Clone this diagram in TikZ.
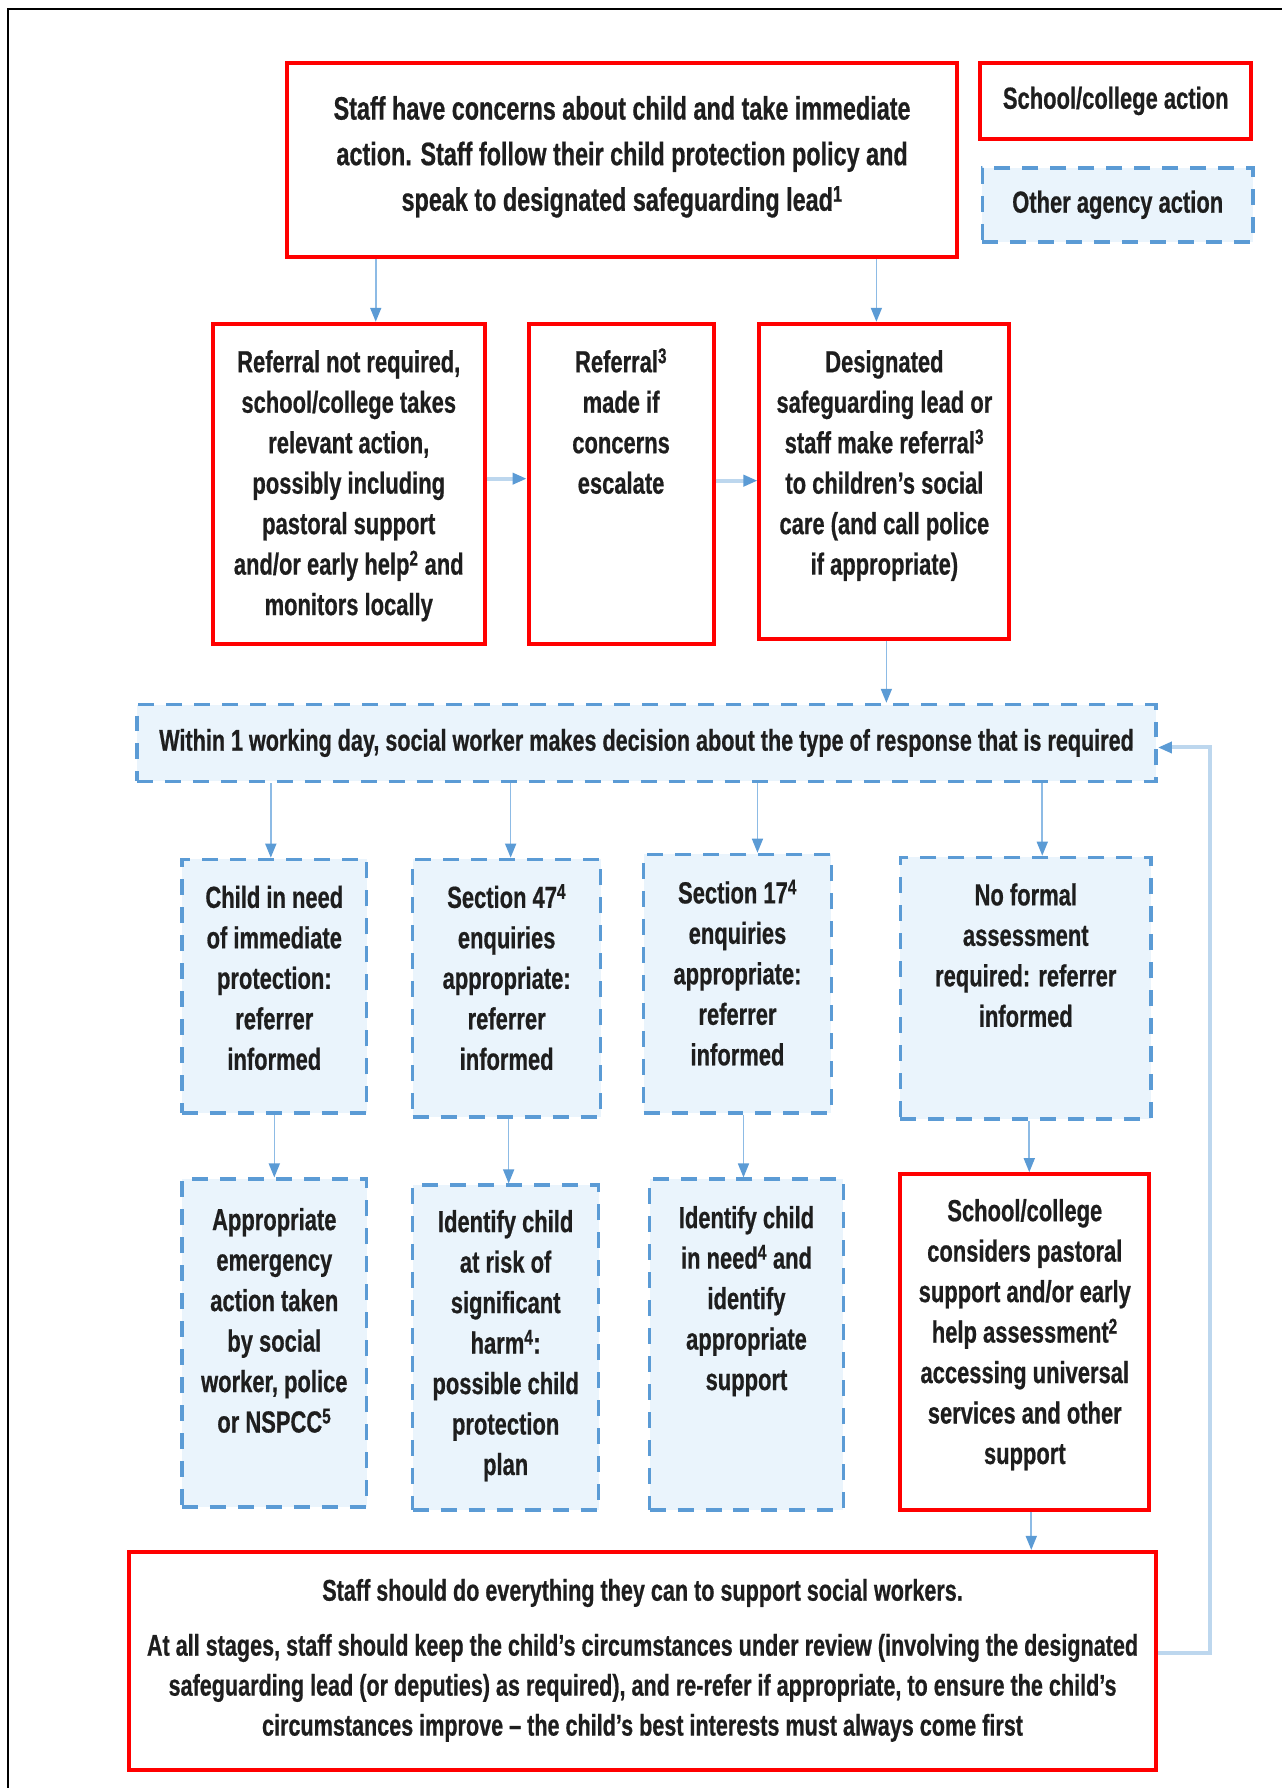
\documentclass[tikz,border=0pt]{standalone}
\usepackage{fontspec}
\setmainfont{Liberation Sans}[FakeStretch=0.72,BoldFeatures={FakeBold=0.6}]
\usetikzlibrary{arrows.meta,positioning}
\definecolor{redline}{HTML}{FF0000}
\definecolor{dashblue}{HTML}{5B9BD5}
\definecolor{paleblue}{HTML}{EAF4FC}
\definecolor{linkblue}{HTML}{8DBBE5}
\definecolor{loopblue}{HTML}{BDD7EE}
\definecolor{ink}{HTML}{1E1E1E}
\newcommand{\boxlines}[1]{\begin{tabular}[t]{@{}c@{}}#1\end{tabular}}
\tikzset{
  school/.style={draw=redline,line width=4pt,fill=white,inner sep=0pt,text=ink,
    font=\fontsize{30.5}{40.5}\selectfont\bfseries},
  agency/.style={school,draw=dashblue,line width=3.5pt,dash pattern=on 16pt off 12pt,fill=paleblue},
  sz/.style n args={3}{minimum width=#1,text height=#2,text depth=#3},
  arr/.style={draw=linkblue,line width=1.6pt,-{Triangle[length=14pt,width=11pt,color=dashblue]}},
  harr/.style={arr,draw=loopblue,line width=4pt},
  looparr/.style={harr},
}
\begin{document}
\begin{tikzpicture}[x=1pt,y=-1pt]
  \fill[white] (0,0) rectangle (1283,1789);
  \draw[line width=2.5pt] (8,1789) -- (8,9) -- (1283,9);
  \node[school,font=\fontsize{32.5}{45.6}\selectfont\bfseries,sz={671pt}{56.7pt}{137.3pt}] (concern) at (622.5,160)
    {\boxlines{Staff have concerns about child and take immediate\\action. Staff follow their child protection policy and\\speak to designated safeguarding lead\textsuperscript{1}}};
  \node[school,minimum width=271pt,minimum height=76pt] (keyschool) at (1116.5,101) {School/college action};
  \node[agency,minimum width=271pt,minimum height=74pt] (keyagency) at (1118.5,205) {Other agency action};
  % first response
  \node[school,sz={272pt}{48.5pt}{271.5pt}] (noref) at (349,484)
    {\boxlines{Referral not required,\\school/college takes\\relevant action,\\possibly including\\pastoral support\\and/or early help\textsuperscript{2} and\\monitors locally}};
  \node[school,sz={185pt}{48.5pt}{271.5pt}] (escal) at (621.5,484)
    {\boxlines{Referral\textsuperscript{3}\\made if\\concerns\\escalate}};
  \node[school,sz={250pt}{48.5pt}{266.5pt}] (dslref) at (885,481.5)
    {\boxlines{Designated\\safeguarding lead or\\staff make referral\textsuperscript{3}\\to children’s social\\care (and call police\\if appropriate)}};
  \node[agency,font=\fontsize{30}{40.5}\selectfont\bfseries,minimum width=1020pt,minimum height=77pt] (decide) at (647,743.5)
    {Within 1 working day, social worker makes decision about the type of response that is required};
  % social worker decisions
  \node[agency,sz={185pt}{48.5pt}{205.5pt}] (urgent) at (274.5,987)
    {\boxlines{Child in need\\of immediate\\protection:\\referrer\\informed}};
  \node[agency,sz={188pt}{48.5pt}{209.5pt}] (sfortyseven) at (507,989)
    {\boxlines{Section 47\textsuperscript{4}\\enquiries\\appropriate:\\referrer\\informed}};
  \node[agency,sz={188pt}{49pt}{210pt}] (sseventeen) at (738,984.5)
    {\boxlines{Section 17\textsuperscript{4}\\enquiries\\appropriate:\\referrer\\informed}};
  \node[agency,sz={251pt}{48pt}{214pt}] (noformal) at (1026.5,989)
    {\boxlines{No formal\\assessment\\required: referrer\\informed}};
  % outcomes
  \node[agency,sz={185pt}{51pt}{277pt}] (emergency) at (274.5,1344)
    {\boxlines{Appropriate\\emergency\\action taken\\by social\\worker, police\\or NSPCC\textsuperscript{5}}};
  \node[agency,sz={186pt}{47pt}{278pt}] (atrisk) at (506,1348.5)
    {\boxlines{Identify child\\at risk of\\significant\\harm\textsuperscript{4}:\\possible child\\protection\\plan}};
  \node[agency,sz={194pt}{49pt}{282pt}] (inneed) at (747,1345.5)
    {\boxlines{Identify child\\in need\textsuperscript{4} and\\identify\\appropriate\\support}};
  \node[school,sz={249pt}{47pt}{289pt}] (pastoral) at (1025.5,1343)
    {\boxlines{School/college\\considers pastoral\\support and/or early\\help assessment\textsuperscript{2}\\accessing universal\\services and other\\support}};
  \node[school,font=\fontsize{30}{40}\selectfont\bfseries,sz={1028pt}{48.8pt}{169.2pt}] (review) at (643,1662)
    {\boxlines{Staff should do everything they can to support social workers.\\[15pt]At all stages, staff should keep the child’s circumstances under review (involving the designated\\safeguarding lead (or deputies) as required), and re-refer if appropriate, to ensure the child’s\\circumstances improve -- the child’s best interests must always come first}};
  % connectors
  \draw[arr] ([xshift=27pt]noref.north |- concern.south) -- ([xshift=27pt]noref.north);
  \draw[arr] ([xshift=-8pt]dslref.north |- concern.south) -- ([xshift=-8pt]dslref.north);
  \draw[harr] ([yshift=5pt]noref.east) -- ([yshift=5pt]noref.east -| escal.west);
  \draw[harr] ([yshift=3pt]escal.east) -- ([yshift=3pt]escal.east -| dslref.west);
  \draw[arr] ([xshift=2pt]dslref.south) -- ([xshift=2pt]dslref.south |- decide.north);
  \foreach \nd/\dx in {urgent/-3.5,sfortyseven/4,sseventeen/20,noformal/16.5}
    \draw[arr] ([xshift=\dx pt]\nd.north |- decide.south) -- ([xshift=\dx pt]\nd.north);
  \foreach \up/\dn/\dx in {urgent/emergency/0,sfortyseven/atrisk/2,sseventeen/inneed/6,noformal/pastoral/3.5}
    \draw[arr] ([xshift=\dx pt]\up.south) -- ([xshift=\dx pt]\up.south |- \dn.north);
  \draw[arr] ([xshift=6.5pt]pastoral.south) -- ([xshift=6.5pt]pastoral.south |- review.north);
  \draw[looparr] ([yshift=8pt]review.east) -| ([xshift=52pt,yshift=-4.5pt]decide.east) -- ([yshift=-4.5pt]decide.east);
\end{tikzpicture}
\end{document}
